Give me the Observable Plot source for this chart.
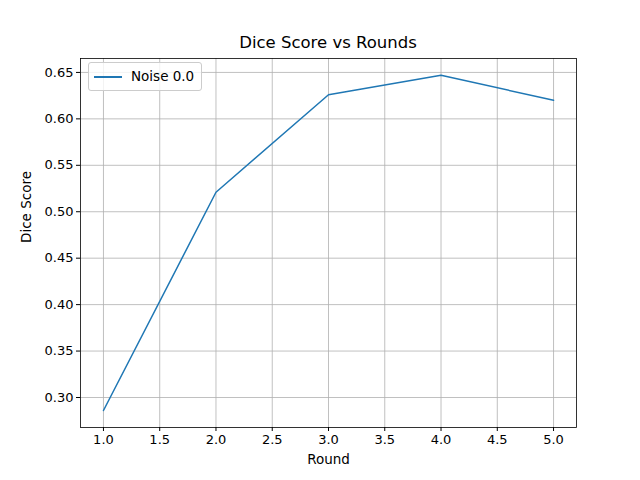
<!DOCTYPE html>
<html>
<head>
<meta charset="utf-8">
<script src="https://cdn.jsdelivr.net/npm/d3@7"></script>
<script src="https://cdn.jsdelivr.net/npm/@observablehq/plot@0.6"></script>
<style>
  body { margin: 0; background: #fff; font-family: "DejaVu Sans", sans-serif; }
  #wrap { position: relative; width: 640px; height: 480px; }
  #title { position: absolute; top: 33px; left: 80px; width: 496px; text-align: center; font-size: 16.5px; }
  #legend { position: absolute; left: 88px; top: 62px; width: 112px; height: 27px; border: 1px solid #ccc; border-radius: 3px; background: rgba(255,255,255,0.8); font-size: 13.5px; }
  #legend .ln { position: absolute; left: 5px; top: 13px; width: 28px; height: 2px; background: #1f77b4; }
  #legend .tx { position: absolute; left: 42px; top: 5px; }
</style>
</head>
<body>
<div id="wrap">
  <div id="plot"></div>
  <div id="title">Dice Score vs Rounds</div>
  <div id="legend"><div class="ln"></div><div class="tx">Noise 0.0</div></div>
</div>
<script>
const rounds = [1, 2, 3, 4, 5];
const diceScores = [0.286, 0.521, 0.626, 0.647, 0.620];
const xTicks = [1.0, 1.5, 2.0, 2.5, 3.0, 3.5, 4.0, 4.5, 5.0];
const yTicks = [0.30, 0.35, 0.40, 0.45, 0.50, 0.55, 0.60, 0.65];

const data = rounds.map((r, i) => ({ round: r, score: diceScores[i] }));

const plot = Plot.plot({
  width: 640,
  height: 480,
  marginLeft: 80,
  marginRight: 64,
  marginTop: 58,
  marginBottom: 53,
  style: { fontFamily: "DejaVu Sans, sans-serif", fontSize: "13px", color: "#000", background: "#fff" },
  x: { domain: [0.796, 5.204], ticks: xTicks, tickFormat: d => d.toFixed(1), label: null },
  y: { domain: [0.2677, 0.665], ticks: yTicks, tickFormat: d => d.toFixed(2), label: null },
  marks: [
    Plot.gridX(xTicks, { stroke: "#b0b0b0", strokeOpacity: 1, strokeWidth: 0.8 }),
    Plot.gridY(yTicks, { stroke: "#b0b0b0", strokeOpacity: 1, strokeWidth: 0.8 }),
    Plot.axisX(xTicks, { tickSize: 4, tickPadding: 3, tickFormat: d => d.toFixed(1), label: null }),
    Plot.axisY(yTicks, { tickSize: 4, tickPadding: 3, tickFormat: d => d.toFixed(2), label: null }),
    Plot.line(data, { x: "round", y: "score", stroke: "#1f77b4", strokeWidth: 1.5 }),
    Plot.frame({ stroke: "#000", strokeWidth: 0.8 }),
    Plot.text(["Round"], { frameAnchor: "bottom", dy: 36, fontSize: 13.5 }),
    Plot.text(["Dice Score"], { frameAnchor: "left", dx: -54, rotate: -90, fontSize: 13.5 })
  ]
});
document.getElementById("plot").appendChild(plot);
</script>
</body>
</html>
